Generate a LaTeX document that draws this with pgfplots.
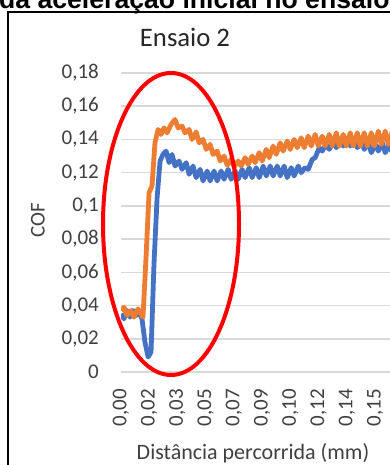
\documentclass[border=0pt]{standalone}
\usepackage{fontspec}
\setmainfont{Carlito}
\newfontfamily\arialbold[BoldFont={Liberation Sans Bold}]{Liberation Sans}
\usepackage{pgfplots}
\pgfplotsset{compat=1.18}
\definecolor{serblue}{HTML}{4472C4}
\definecolor{serorange}{HTML}{ED7D31}
\definecolor{gridgray}{HTML}{D9D9D9}
\definecolor{txtgray}{HTML}{404040}
\begin{document}
\begin{tikzpicture}[x=1pt,y=1pt]
\useasboundingbox (0,0) rectangle (390,465);
\clip (0,0) rectangle (390,465);
\fill[white] (0,0) rectangle (390,465);
\node[anchor=base west, inner sep=0pt, font=\arialbold\bfseries\fontsize{26.6}{30}\selectfont] at (-1,456) {da aceleração inicial no ensaio};
\draw[black, line width=1.5pt] (8,-5) -- (8,453) -- (400,453);
\begin{axis}[
  at={(121pt,93pt)}, anchor=south west,
  scale only axis, width=279pt, height=299pt,
  xmin=0, xmax=0.1700, ymin=0, ymax=0.18,
  axis line style={draw=none},
  tick style={draw=none},
  ymajorgrids, major grid style={gridgray, line width=1.5pt},
  ytick={0,0.02,0.04,0.06,0.08,0.1,0.12,0.14,0.16,0.18},
  yticklabels={{0},{0,02},{0,04},{0,06},{0,08},{0,1},{0,12},{0,14},{0,16},{0,18}},
  xtick={0,0.0172,0.0344,0.0516,0.0688,0.086,0.1032,0.1204,0.1376,0.1548},
  xticklabels={{0,00},{0,02},{0,03},{0,05},{0,07},{0,09},{0,10},{0,12},{0,14},{0,15}},
  ticklabel style={font=\fontsize{21}{24}\selectfont, text=txtgray},
  yticklabel style={anchor=east, inner sep=0pt},
  yticklabel shift=22pt,
  xticklabel style={rotate=90, anchor=east, inner sep=0pt},
  xticklabel shift=17pt,
  clip=true,
]
\addplot[serblue, line width=4.8pt, line join=round] coordinates {
(0,0.035) (0.0018,0.032) (0.0037,0.037) (0.0055,0.033) (0.0073,0.037) (0.0092,0.034) (0.0110,0.036) (0.0128,0.032)
(0.0146,0.018) (0.0165,0.009) (0.0183,0.012) (0.0201,0.065) (0.0220,0.105) (0.0238,0.127) (0.0256,0.131) (0.0275,0.133)
(0.0293,0.126) (0.0311,0.131) (0.0329,0.124) (0.0354,0.127) (0.0372,0.122) (0.0397,0.126) (0.0415,0.119) (0.0439,0.124)
(0.0458,0.117) (0.0482,0.122) (0.0500,0.115) (0.0525,0.121) (0.0543,0.115) (0.0567,0.121) (0.0586,0.115) (0.0610,0.121)
(0.0628,0.116) (0.0653,0.122) (0.0671,0.116) (0.0695,0.121) (0.0714,0.116) (0.0738,0.122) (0.0756,0.117) (0.0781,0.123)
(0.0799,0.117) (0.0824,0.123) (0.0842,0.117) (0.0866,0.124) (0.0885,0.118) (0.0909,0.124) (0.0927,0.118) (0.0952,0.124)
(0.0970,0.118) (0.0994,0.124) (0.1013,0.117) (0.1037,0.123) (0.1055,0.118) (0.1080,0.124) (0.1098,0.120) (0.1122,0.123)
(0.1141,0.122) (0.1165,0.128) (0.1183,0.129) (0.1208,0.135) (0.1226,0.133) (0.1250,0.137) (0.1269,0.134) (0.1293,0.139)
(0.1312,0.135) (0.1336,0.140) (0.1354,0.136) (0.1379,0.141) (0.1397,0.136) (0.1421,0.140) (0.1440,0.135) (0.1464,0.139)
(0.1482,0.134) (0.1507,0.138) (0.1525,0.132) (0.1549,0.137) (0.1568,0.133) (0.1592,0.138) (0.1610,0.132) (0.1635,0.137)
(0.1653,0.132) (0.1677,0.136) (0.1696,0.133)
};
\addplot[serorange, line width=4.8pt, line join=round] coordinates {
(0,0.037) (0.0018,0.039) (0.0037,0.034) (0.0061,0.037) (0.0079,0.033) (0.0104,0.038) (0.0122,0.035) (0.0134,0.033)
(0.0153,0.070) (0.0171,0.108) (0.0189,0.112) (0.0207,0.138) (0.0226,0.146) (0.0244,0.143) (0.0262,0.147) (0.0281,0.144)
(0.0305,0.149) (0.0329,0.152) (0.0348,0.147) (0.0372,0.148) (0.0390,0.144) (0.0415,0.146) (0.0433,0.140) (0.0458,0.1445)
(0.0476,0.138) (0.0500,0.140) (0.0519,0.134) (0.0543,0.137) (0.0561,0.131) (0.0586,0.133) (0.0604,0.127) (0.0628,0.130)
(0.0647,0.1245) (0.0671,0.128) (0.0689,0.1235) (0.0714,0.127) (0.0732,0.124) (0.0756,0.129) (0.0775,0.125) (0.0799,0.130)
(0.0817,0.126) (0.0842,0.132) (0.0860,0.127) (0.0885,0.134) (0.0903,0.129) (0.0927,0.136) (0.0946,0.131) (0.0970,0.138)
(0.0988,0.133) (0.1013,0.139) (0.1031,0.134) (0.1055,0.140) (0.1074,0.135) (0.1098,0.141) (0.1116,0.135) (0.1141,0.142)
(0.1159,0.136) (0.1183,0.143) (0.1202,0.136) (0.1226,0.142) (0.1244,0.136) (0.1269,0.143) (0.1287,0.136) (0.1312,0.144)
(0.1330,0.136) (0.1354,0.143) (0.1373,0.136) (0.1397,0.144) (0.1415,0.136) (0.1440,0.144) (0.1458,0.136) (0.1482,0.144)
(0.1501,0.136) (0.1525,0.144) (0.1543,0.136) (0.1568,0.145) (0.1586,0.137) (0.1610,0.145) (0.1629,0.137) (0.1653,0.145)
(0.1671,0.138) (0.1696,0.143)
};
\end{axis}
\draw[red, line width=4pt] (171,241) ellipse [x radius=68, y radius=151];
\node[anchor=base, inner sep=0pt, font=\fontsize{26.7}{30}\selectfont, text=black!85] at (185,418) {Ensaio 2};
\node[rotate=90, inner sep=0pt, font=\fontsize{21}{24}\selectfont, text=txtgray] at (38,245) {COF};
\node[inner sep=0pt, font=\fontsize{22}{26}\selectfont, text=txtgray] at (253,12) {Distância percorrida (mm)};
\end{tikzpicture}
\end{document}
